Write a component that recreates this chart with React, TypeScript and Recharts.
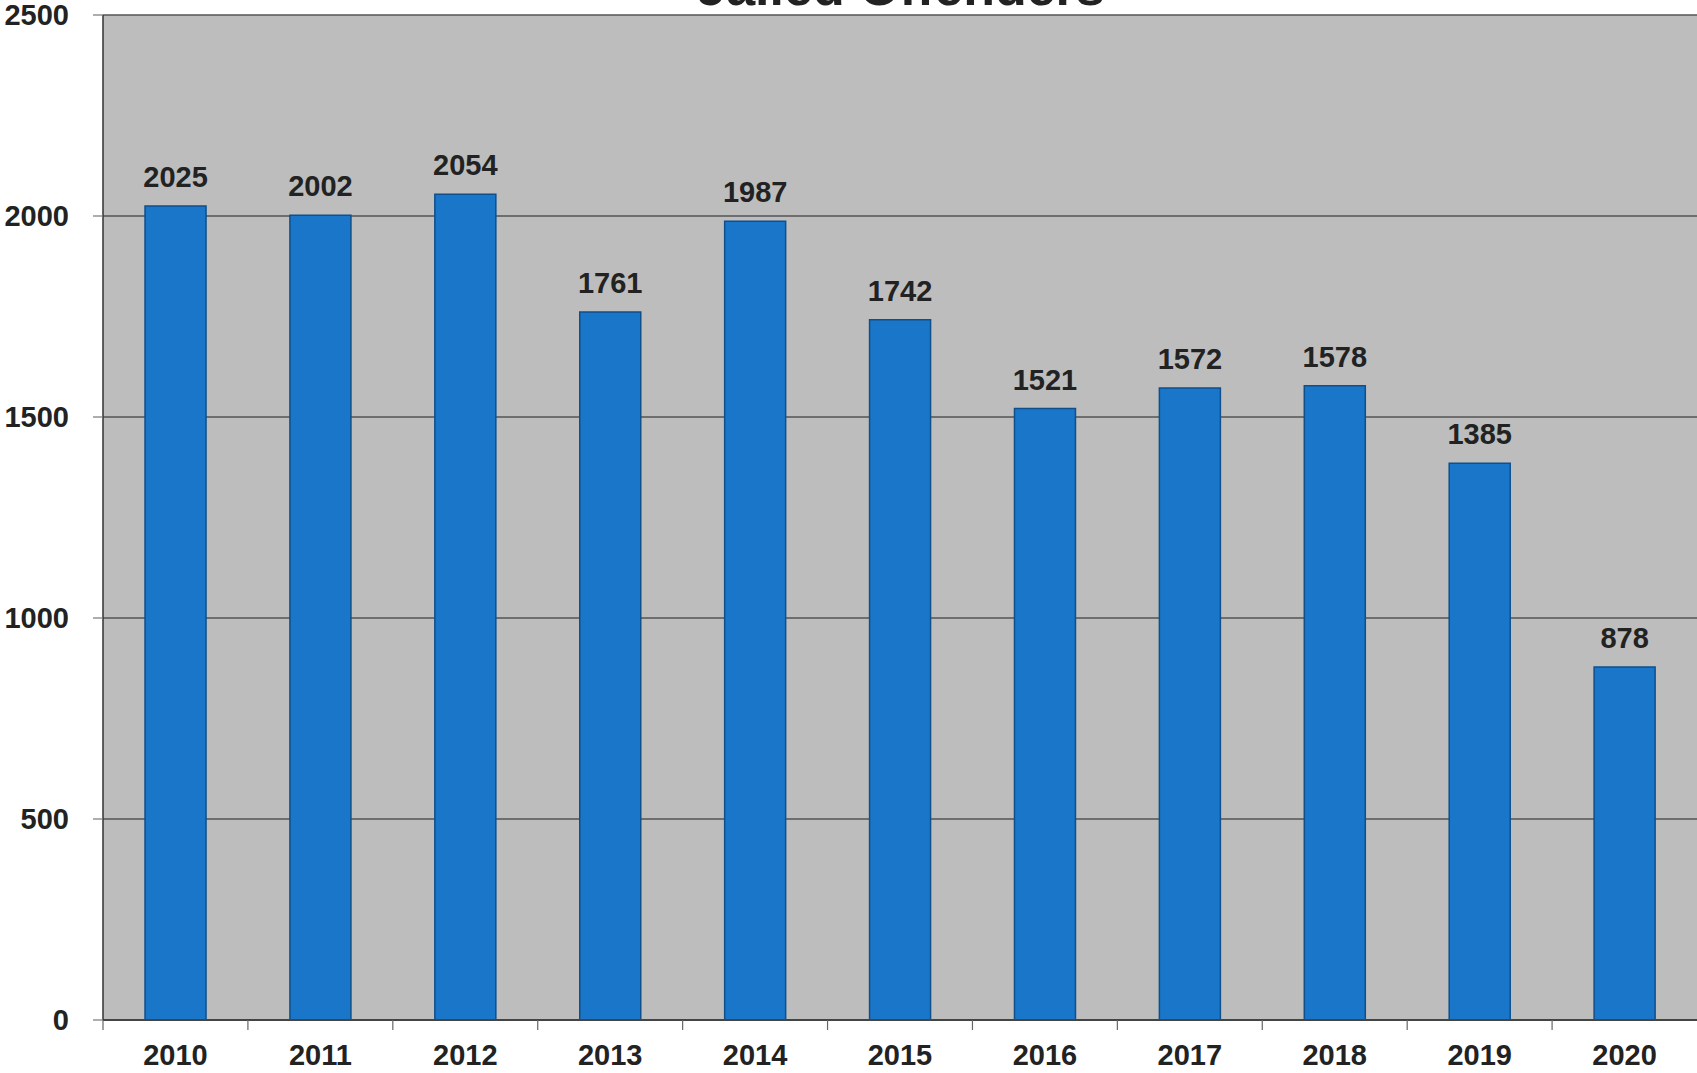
import React from "react";
import { BarChart, Bar, XAxis, YAxis, CartesianGrid, LabelList } from "recharts";

const years = ["2010", "2011", "2012", "2013", "2014", "2015", "2016", "2017", "2018", "2019", "2020"];
const offenders = [2025, 2002, 2054, 1761, 1987, 1742, 1521, 1572, 1578, 1385, 878];
const yTicks = [0, 500, 1000, 1500, 2000, 2500];

const data = years.map((year, i) => ({ year, value: offenders[i] }));

const W = 1697;
const H = 1073;
const PLOT_LEFT = 103;
const PLOT_TOP = 15;
const AXIS_Y = 1020;
const BAND = (W - PLOT_LEFT) / years.length;

const font = "'Liberation Sans', Arial, sans-serif";

function XTick(props: any) {
  const { x, payload } = props;
  const bx = x - BAND / 2;
  return (
    <g>
      <line x1={bx} y1={AXIS_Y} x2={bx} y2={AXIS_Y + 10} stroke="#666" strokeWidth={1.2} />
      <text x={x} y={AXIS_Y + 45} textAnchor="middle" fontFamily={font} fontWeight="bold" fontSize={29} fill="#222">
        {payload.value}
      </text>
    </g>
  );
}

function YTick(props: any) {
  const { y, payload } = props;
  return (
    <text x={69} y={y} dy="0.36em" textAnchor="end" fontFamily={font} fontWeight="bold" fontSize={29} fill="#222">
      {payload.value}
    </text>
  );
}

export default function App() {
  return (
    <div style={{ position: "absolute", left: 0, top: 0, width: W, height: H, background: "#fff", overflow: "hidden" }}>
      <svg style={{ position: "absolute", left: 0, top: 0 }} width={W} height={40}>
        <text x={901} y={5} textAnchor="middle" fontFamily={font} fontWeight="bold" fontSize={52} fill="#222">
          Jailed Offenders
        </text>
      </svg>
      <BarChart
        width={W}
        height={H}
        data={data}
        margin={{ top: PLOT_TOP, right: 0, bottom: 0, left: 0 }}
        barCategoryGap="29%"
        style={{ position: "absolute", left: 0, top: 0 }}
      >
        <CartesianGrid vertical={false} fill="#bdbdbd" stroke="#555" strokeWidth={1.5} />
        <XAxis
          dataKey="year"
          height={H - AXIS_Y}
          tickLine={false}
          axisLine={{ stroke: "#444", strokeWidth: 2 }}
          tick={<XTick />}
          interval={0}
        />
        <YAxis
          width={PLOT_LEFT}
          domain={[0, 2500]}
          ticks={yTicks}
          tickSize={10}
          tickLine={{ stroke: "#777", strokeWidth: 1.2 }}
          axisLine={{ stroke: "#333", strokeWidth: 1.5 }}
          tick={<YTick />}
          interval={0}
        />
        <Bar dataKey="value" fill="#1a76c9" stroke="#0e4f8c" strokeWidth={1.5} isAnimationActive={false}>
          <LabelList
            dataKey="value"
            position="top"
            offset={19}
            fontFamily={font}
            fontWeight="bold"
            fontSize={29}
            fill="#222"
          />
        </Bar>
      </BarChart>
    </div>
  );
}
